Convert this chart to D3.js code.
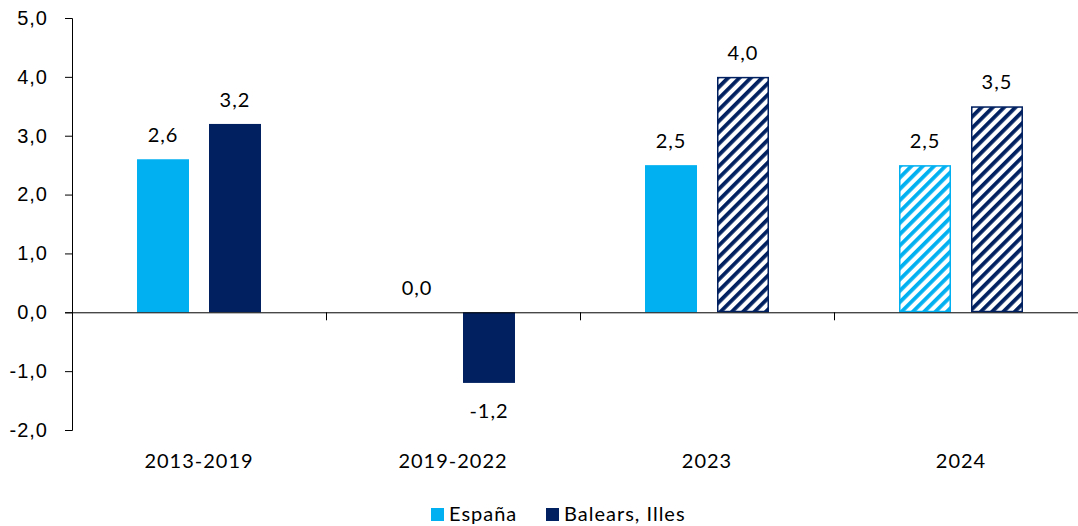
<!DOCTYPE html>
<html>
<head>
<meta charset="utf-8">
<script src="https://cdn.jsdelivr.net/npm/d3@7"></script>
<style>
  body { margin: 0; background: #fff; }
  svg { font-family: Lato, "Open Sans", sans-serif; letter-spacing: 1px; }
  .axis text { font-size: 20px; fill: #000; }
  .axis path, .axis line { stroke: #000; }
</style>
</head>
<body>
<svg width="1078" height="526"></svg>
<script>
// chart data
var categories = ['2013-2019', '2019-2022', '2023', '2024'];
var seriesNames = ['España', 'Balears, Illes'];
var espana = [2.6, 0.0, 2.5, 2.5];
var balears = [3.2, -1.2, 4.0, 3.5];
// which bars are forecasts (drawn hatched)
var espanaHatched = [false, false, false, true];
var balearsHatched = [false, false, true, true];
var yTicks = [-2, -1, 0, 1, 2, 3, 4, 5];

var colors = ['#00B0F0', '#002060'];

var svg = d3.select('svg');
var defs = svg.append('defs');

//hatch patterns, one per series
colors.forEach(function(c, i) {
	var p = defs.append('pattern')
		.attr('id', 'hatch' + i)
		.attr('patternUnits', 'userSpaceOnUse')
		.attr('width', 8)
		.attr('height', 8)
		.attr('patternTransform', 'rotate(45)');
	p.append('rect').attr('width', 8).attr('height', 8).attr('fill', '#fff');
	p.append('rect').attr('x', 0).attr('width', 3.8).attr('height', 8).attr('fill', c);
});

var xScale = d3.scaleBand()
	.domain(categories)
	.range([72, 1088]);

var yScale = d3.scaleLinear()
	.domain([-2, 5])
	.range([430, 18]);

var inner = d3.scaleBand()
	.domain([0, 1])
	.range([0, xScale.bandwidth()])
	.paddingInner(0.278)
	.paddingOuter(0.903);

var fmt = function(v) { return d3.format('.1f')(v).replace('.', ',').replace('−', '-'); };

// y axis
var yAxis = d3.axisLeft(yScale)
	.tickValues(yTicks)
	.tickSize(7)
	.tickPadding(17)
	.tickFormat(fmt);

svg.append('g')
	.attr('class', 'axis')
	.attr('transform', 'translate(72,0)')
	.call(yAxis)
	.call(function(g) { g.select('.domain').attr('d', 'M-7,18.5H0.5V430.5H-7'); });

// bars
var rows = [];
categories.forEach(function(c, i) {
	rows.push({cat: c, s: 0, v: espana[i], hatch: espanaHatched[i]});
	rows.push({cat: c, s: 1, v: balears[i], hatch: balearsHatched[i]});
});

var bars = svg.append('g');
bars.selectAll('rect')
	.data(rows.filter(d => d.v !== 0))
	.enter().append('rect')
	.attr('x', d => xScale(d.cat) + inner(d.s) + (d.hatch ? 0.75 : 0))
	.attr('y', d => yScale(Math.max(0, d.v)) + (d.hatch ? 0.75 : 0))
	.attr('width', d => inner.bandwidth() - (d.hatch ? 1.5 : 0))
	.attr('height', d => Math.abs(yScale(d.v) - yScale(0)) - (d.hatch ? 1.5 : 0))
	.attr('fill', d => d.hatch ? 'url(#hatch' + d.s + ')' : colors[d.s])
	.attr('stroke', d => d.hatch ? colors[d.s] : 'none')
	.attr('stroke-width', 1.5);

// value labels
svg.append('g').selectAll('text')
	.data(rows)
	.enter().append('text')
	.attr('x', d => xScale(d.cat) + inner(d.s) + inner.bandwidth() / 2)
	.attr('y', d => d.v >= 0 ? yScale(d.v) - 17 : yScale(d.v) + 35)
	.attr('text-anchor', 'middle')
	.attr('font-size', 20)
	.attr('fill', '#000')
	.text(d => fmt(d.v));

// x axis at zero
var xAxis = d3.axisBottom(xScale)
	.tickSize(0)
	.tickPadding(0)
	.tickFormat('');

var xg = svg.append('g')
	.attr('class', 'axis')
	.attr('transform', 'translate(0,' + yScale(0) + ')')
	.call(xAxis);
xg.select('.domain').attr('d', 'M65,0.5H1088');
xg.selectAll('.sep')
	.data(categories.slice(1))
	.enter().append('line')
	.attr('x1', d => xScale(d) + 0.5)
	.attr('x2', d => xScale(d) + 0.5)
	.attr('y1', 0)
	.attr('y2', 8)
	.attr('stroke', '#000');

// category labels
svg.append('g').selectAll('text')
	.data(categories)
	.enter().append('text')
	.attr('x', d => xScale(d) + xScale.bandwidth() / 2)
	.attr('y', 468)
	.attr('text-anchor', 'middle')
	.attr('font-size', 20)
	.text(d => d);

// legend
var legend = svg.append('g').attr('transform', 'translate(431,508)');
var lx = [0, 115];
seriesNames.forEach(function(n, i) {
	legend.append('rect')
		.attr('x', lx[i])
		.attr('y', 0)
		.attr('width', 13)
		.attr('height', 13)
		.attr('fill', colors[i]);
	legend.append('text')
		.attr('x', lx[i] + 18)
		.attr('y', 13)
		.attr('font-size', 20)
		.text(n);
});
</script>
</body>
</html>
